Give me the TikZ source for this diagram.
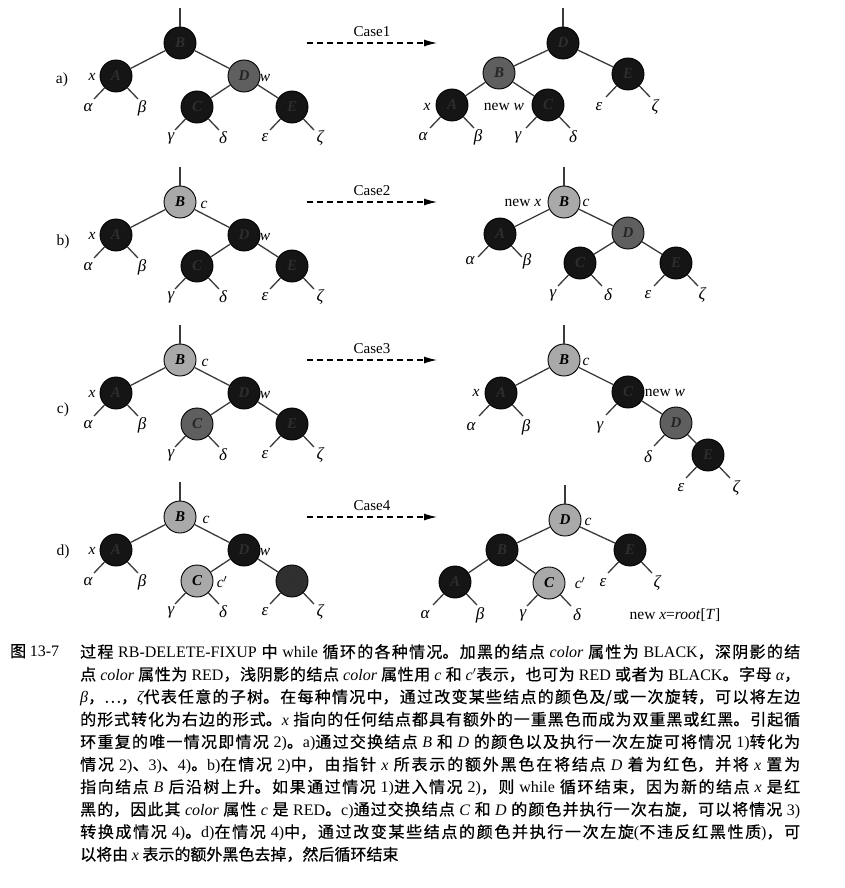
\documentclass[tikz,border=0pt]{standalone}
\usepackage{fontspec}
\setmainfont{Liberation Serif}
\newfontfamily\cjk[FakeBold=0.6]{Noto Sans CJK SC}
\usetikzlibrary{arrows.meta,calc}
\XeTeXlinebreaklocale "zh"
\XeTeXlinebreakskip=0pt plus 2pt
\definecolor{blkfill}{HTML}{151515}
\definecolor{blktext}{HTML}{2E2E2E}
\definecolor{redfill}{HTML}{5F5F5F}
\definecolor{redtext}{HTML}{262626}
\definecolor{ltfill}{HTML}{A9A9A9}
\definecolor{dkredfill}{HTML}{303030}
\definecolor{edgecol}{HTML}{3A3A3A}
\tikzset{
  rbnode/.style={circle,draw=black,line width=0.9pt,minimum size=32pt,inner sep=0pt,
    font=\fontsize{15}{15}\selectfont\bfseries\itshape},
  blk/.style={rbnode,fill=blkfill,text=blktext},
  rednode/.style={rbnode,fill=redfill,text=redtext},
  darkred/.style={rbnode,fill=dkredfill,text=blktext},
  ltnode/.style={rbnode,fill=ltfill,text=black},
  tedge/.style={draw=edgecol,line width=1.3pt},
  greek/.style={inner sep=0pt,font=\fontsize{17}{17}\selectfont\itshape},
  lab/.style={inner sep=0pt,font=\fontsize{15.5}{15.5}\selectfont},
  caselab/.style={inner sep=0pt,font=\fontsize{15}{15}\selectfont},
  casearrow/.style={line width=1.1pt,dash pattern=on 6pt off 4pt,-{Latex[length=13pt,width=7pt]}},
  captext/.style={inner sep=0pt,font=\cjk\fontsize{16}{22.5}\selectfont},
}
\newcommand\E[1]{{\rmfamily #1}}
\newcommand\I[1]{{\rmfamily\itshape #1}}
% left stub + label: node, name, text, label dx, label dy
\newcommand\leafL[5]{%
  \coordinate (#2s) at ($(#1)+(-22,23)$);
  \draw[tedge] (#1) -- (#2s);
  \node[greek] (#2) at ($(#1)+(#4,#5)$) {#3};}
\newcommand\leafR[5]{%
  \coordinate (#2s) at ($(#1)+(22,23)$);
  \draw[tedge] (#1) -- (#2s);
  \node[greek] (#2) at ($(#1)+(#4,#5)$) {#3};}
% left tree: prefix, y0, B style, D style, C style, E style
\newcommand\lefttree[6]{%
  \coordinate (#1-top) at (180,#2-35);
  \node[#3] (#1-B) at (180,#2) {B};
  \node[blk] (#1-A) at (116,#2+33) {A};
  \node[#4] (#1-D) at (244,#2+33) {D};
  \node[#5] (#1-C) at (197,#2+64) {C};
  \node[#6] (#1-E) at (292,#2+64) {E};
  \draw[tedge] (#1-top) -- (#1-B);
  \draw[tedge] (#1-B) -- (#1-A);
  \draw[tedge] (#1-B) -- (#1-D);
  \draw[tedge] (#1-D) -- (#1-C);
  \draw[tedge] (#1-D) -- (#1-E);
  \leafL{#1-A}{#1-al}{α}{-28}{32}
  \leafR{#1-A}{#1-be}{β}{26}{32}
  \leafL{#1-C}{#1-ga}{γ}{-26}{31}
  \leafR{#1-C}{#1-de}{δ}{26}{31}
  \leafL{#1-E}{#1-ep}{ε}{-27}{31}
  \leafR{#1-E}{#1-ze}{ζ}{28}{31}
  \node[lab] (#1-x) at (92,#2+34) {\itshape x};
  \node[lab] (#1-w) at (265,#2+35) {\itshape w};
}
\begin{document}
\begin{tikzpicture}[x=1pt,y=-1pt]
\useasboundingbox (0,0) rectangle (844,888);
\fill[white] (0,0) rectangle (844,888);

% ---------- row labels ----------
\node[lab] (ra) at (62,80) {a)};
\node[lab] (rb) at (63,242) {b)};
\node[lab] (rc) at (63,410) {c)};
\node[lab] (rd) at (63,552) {d)};

% ---------- case arrows ----------
\foreach \y/\n [count=\i] in {43/Case1,202/Case2,360/Case3,517/Case4}{
  \coordinate (arr\i s) at (307,\y);
  \coordinate (arr\i e) at (437,\y);
  \draw[casearrow] (arr\i s) -- (arr\i e);
  \node[caselab] (case\i) at (372,\y-11) {\n};
}

% ---------- left trees ----------
\lefttree{aL}{43}{blk}{rednode}{blk}{blk}
\lefttree{bL}{202}{ltnode}{blk}{blk}{blk}
\node[lab] (bL-c) at (204,205) {\itshape c};
\lefttree{cL}{360}{ltnode}{blk}{rednode}{blk}
\node[lab] (cL-c) at (205,363) {\itshape c};
\lefttree{dL}{517}{ltnode}{blk}{ltnode}{darkred}
\node[lab] (dL-c) at (206,520) {\itshape c};
\node[lab] (dL-cp) at (222,582) {\itshape c$'$};

% ---------- row a right ----------
\coordinate (aR-top) at (563,8);
\node[blk] (aR-D) at (563,43) {D};
\node[rednode] (aR-B) at (499,73) {B};
\node[blk] (aR-E) at (628,74) {E};
\node[blk] (aR-A) at (452,105) {A};
\node[blk] (aR-C) at (548,105) {C};
\draw[tedge] (aR-top) -- (aR-D);
\draw[tedge] (aR-D) -- (aR-B);
\draw[tedge] (aR-D) -- (aR-E);
\draw[tedge] (aR-B) -- (aR-A);
\draw[tedge] (aR-B) -- (aR-C);
\leafL{aR-A}{aR-al}{α}{-29}{32}
\leafR{aR-A}{aR-be}{β}{26}{32}
\leafL{aR-C}{aR-ga}{γ}{-30}{32}
\leafR{aR-C}{aR-de}{δ}{25}{32}
\leafL{aR-E}{aR-ep}{ε}{-29}{33}
\leafR{aR-E}{aR-ze}{ζ}{27}{33}
\node[lab] (aR-x) at (427,107) {\itshape x};
\node[lab] (aR-nw) at (504,107) {new \itshape w};

% ---------- row b right ----------
\coordinate (bR-top) at (564,167);
\node[ltnode] (bR-B) at (564,202) {B};
\node[blk] (bR-A) at (500,234) {A};
\node[rednode] (bR-D) at (628,233) {D};
\node[blk] (bR-C) at (580,263) {C};
\node[blk] (bR-E) at (676,263) {E};
\draw[tedge] (bR-top) -- (bR-B);
\draw[tedge] (bR-B) -- (bR-A);
\draw[tedge] (bR-B) -- (bR-D);
\draw[tedge] (bR-D) -- (bR-C);
\draw[tedge] (bR-D) -- (bR-E);
\leafL{bR-A}{bR-al}{α}{-30}{27}
\leafR{bR-A}{bR-be}{β}{27}{27}
\leafL{bR-C}{bR-ga}{γ}{-27}{32}
\leafR{bR-C}{bR-de}{δ}{28}{32}
\leafL{bR-E}{bR-ep}{ε}{-28}{32}
\leafR{bR-E}{bR-ze}{ζ}{26}{32}
\node[lab] (bR-nx) at (523,203) {new \itshape x};
\node[lab] (bR-c) at (586,203) {\itshape c};

% ---------- row c right ----------
\coordinate (cR-top) at (564,325);
\node[ltnode] (cR-B) at (564,360) {B};
\node[blk] (cR-A) at (501,393) {A};
\node[blk] (cR-C) at (628,392) {C};
\node[rednode] (cR-D) at (676,423) {D};
\node[blk] (cR-E) at (708,455) {E};
\draw[tedge] (cR-top) -- (cR-B);
\draw[tedge] (cR-B) -- (cR-A);
\draw[tedge] (cR-B) -- (cR-C);
\draw[tedge] (cR-C) -- (cR-D);
\draw[tedge] (cR-D) -- (cR-E);
\leafL{cR-A}{cR-al}{α}{-30}{34}
\leafR{cR-A}{cR-be}{β}{25}{34}
\leafL{cR-C}{cR-ga}{γ}{-28}{35}
\leafL{cR-D}{cR-de}{δ}{-28}{34}
\leafL{cR-E}{cR-ep}{ε}{-27}{33}
\leafR{cR-E}{cR-ze}{ζ}{28}{33}
\node[lab] (cR-c) at (586,362) {\itshape c};
\node[lab] (cR-x) at (476,393) {\itshape x};
\node[lab] (cR-nw) at (665,393) {new \itshape w};

% ---------- row d right ----------
\coordinate (dR-top) at (565,485);
\node[ltnode] (dR-D) at (565,520) {D};
\node[blk] (dR-B) at (502,550) {B};
\node[blk] (dR-E) at (630,550) {E};
\node[blk] (dR-A) at (455,582) {A};
\node[ltnode] (dR-C) at (549,583) {C};
\draw[tedge] (dR-top) -- (dR-D);
\draw[tedge] (dR-D) -- (dR-B);
\draw[tedge] (dR-D) -- (dR-E);
\draw[tedge] (dR-B) -- (dR-A);
\draw[tedge] (dR-B) -- (dR-C);
\leafL{dR-A}{dR-al}{α}{-30}{33}
\leafR{dR-A}{dR-be}{β}{25}{33}
\leafL{dR-C}{dR-ga}{γ}{-26}{32}
\leafR{dR-C}{dR-de}{δ}{28}{32}
\leafL{dR-E}{dR-ep}{ε}{-27}{33}
\leafR{dR-E}{dR-ze}{ζ}{27}{33}
\node[lab] (dR-c) at (588,522) {\itshape c};
\node[lab] (dR-cp) at (580,583) {\itshape c$'$};
\node[lab] (dR-root) at (675,615) {new \textit{x}=\textit{root}[\textit{T}]};

% ---------- caption ----------
\node[captext,anchor=north west] (fig) at (10,644) {图 \E{13-7}};
\node[captext,anchor=north west,text width=720pt,align=justify] (cap) at (80,644) {%
\tolerance=10000\hbadness=10000
过程 \E{RB-DELETE-FIXUP} 中 \E{while} 循环的各种情况。加黑的结点 \I{color} 属性为 \E{BLACK}，深阴影的结\linebreak
点 \I{color} 属性为 \E{RED}，浅阴影的结点 \I{color} 属性用 \I{c} 和 \I{c}$'$表示，也可为 \E{RED} 或者为 \E{BLACK}。字母 \I{α}，\linebreak
\I{β}，…，\I{ζ}代表任意的子树。在每种情况中，通过改变某些结点的颜色及/或一次旋转，可以将左边\linebreak
的形式转化为右边的形式。\I{x} 指向的任何结点都具有额外的一重黑色而成为双重黑或红黑。引起循\linebreak
环重复的唯一情况即情况 \E{2)}。\E{a)}通过交换结点 \I{B} 和 \I{D} 的颜色以及执行一次左旋可将情况 \E{1)}转化为\linebreak
情况 \E{2)}、\E{3)}、\E{4)}。\E{b)}在情况 \E{2)}中，由指针 \I{x} 所表示的额外黑色在将结点 \I{D} 着为红色，并将 \I{x} 置为\linebreak
指向结点 \I{B} 后沿树上升。如果通过情况 \E{1)}进入情况 \E{2)}，则 \E{while} 循环结束，因为新的结点 \I{x} 是红\linebreak
黑的，因此其 \I{color} 属性 \I{c} 是 \E{RED}。\E{c)}通过交换结点 \I{C} 和 \I{D} 的颜色并执行一次右旋，可以将情况 \E{3)}\linebreak
转换成情况 \E{4)}。\E{d)}在情况 \E{4)}中，通过改变某些结点的颜色并执行一次左旋\E{(}不违反红黑性质\E{)}，可\linebreak
以将由 \I{x} 表示的额外黑色去掉，然后循环结束};
\end{tikzpicture}
\end{document}
